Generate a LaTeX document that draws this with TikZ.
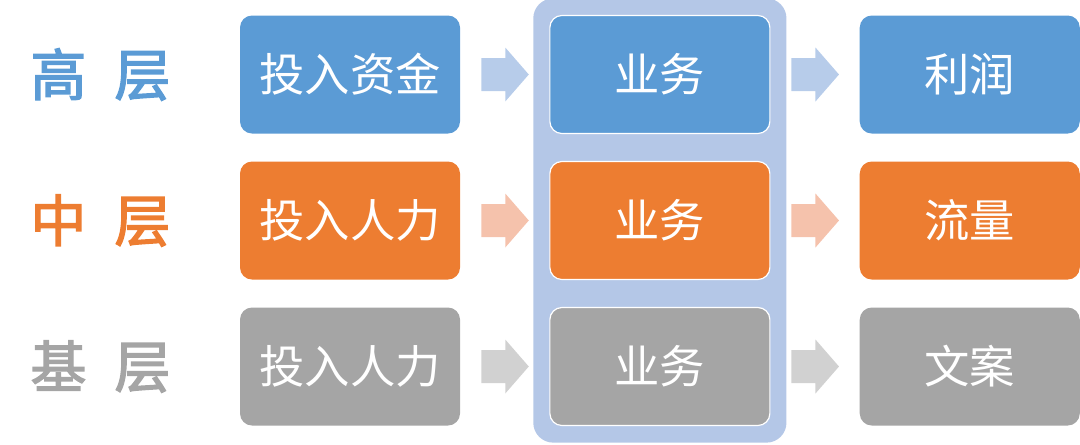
\documentclass[tikz,border=0pt]{standalone}
\usepackage{fontspec}
\newfontfamily\cjk{Noto Sans CJK SC}
\newfontfamily\cjkbold[FakeBold=2.5]{Noto Sans CJK SC}
\usetikzlibrary{positioning, calc, fit, backgrounds}

\definecolor{hiblue}{HTML}{5B9BD5}
\definecolor{midorange}{HTML}{ED7D31}
\definecolor{basegray}{HTML}{A5A5A5}
\definecolor{colbg}{HTML}{B4C7E7}
\definecolor{arrblue}{HTML}{B7CCEA}
\definecolor{arrorange}{HTML}{F5C2AC}
\definecolor{arrgray}{HTML}{D1D1D1}

\tikzset{
	box/.style={rectangle, rounded corners=9pt, fill=#1, text=white, minimum width=165pt, minimum height=88.5pt, inner sep=0pt, font=\cjk\fontsize{34pt}{34pt}\selectfont},
	midbox/.style={box=#1, draw=white, line width=0.9pt},
	level/.style={text=#1, inner sep=0pt, font=\cjkbold\fontsize{42pt}{42pt}\selectfont},
}

\newcommand{\flowarrow}[3]{
	\path (#1.east) -- (#2.west) coordinate[pos=.5] (m);
	\fill[#3] ($(m)+(-23.5,-16.5)$) -- ++(24,0) -- ++(0,-10.5) -- ++(23.5,27) -- ++(-23.5,27) -- ++(0,-10.5) -- ++(-24,0) -- cycle;
}

\begin{document}
\begin{tikzpicture}[x=0.75pt, y=-0.75pt, node distance=20.6pt and 66.75pt]

	\useasboundingbox (0,0) rectangle (1080,444);

	\node[box=hiblue] (in1) at (350,74.5) {投入资金};
	\node[box=midorange, below=of in1] (in2) {投入人力};
	\node[box=basegray, below=of in2] (in3) {投入人力};

	\node[midbox=hiblue, right=of in1] (biz1) {业务};
	\node[midbox=midorange, right=of in2] (biz2) {业务};
	\node[midbox=basegray, right=of in3] (biz3) {业务};

	\node[box=hiblue, right=of biz1] (out1) {利润};
	\node[box=midorange, right=of biz2] (out2) {流量};
	\node[box=basegray, right=of biz3] (out3) {文案};

	\node[level=hiblue, left=51.75pt of in1] (lv1) {高\hspace{0.5em}层};
	\node[level=midorange, left=51.75pt of in2] (lv2) {中\hspace{0.5em}层};
	\node[level=basegray, left=51.75pt of in3] (lv3) {基\hspace{0.5em}层};

	\begin{scope}[on background layer]
		\node[fill=colbg, rounded corners=15pt, inner xsep=12pt, inner ysep=12.4pt, fit=(biz1)(biz3)] (col) {};
	\end{scope}

	\flowarrow{in1}{biz1}{arrblue}
	\flowarrow{in2}{biz2}{arrorange}
	\flowarrow{in3}{biz3}{arrgray}
	\flowarrow{biz1}{out1}{arrblue}
	\flowarrow{biz2}{out2}{arrorange}
	\flowarrow{biz3}{out3}{arrgray}

\end{tikzpicture}
\end{document}
